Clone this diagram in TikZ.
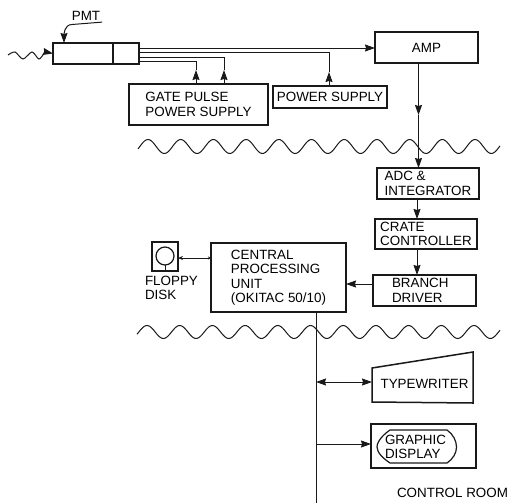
\documentclass[tikz,border=0pt]{standalone}
\usepackage{fontspec}
\setmainfont{Liberation Sans}
\usetikzlibrary{positioning,arrows.meta}
\colorlet{inkline}{black!90}
\begin{document}
\begin{tikzpicture}[x=1pt,y=-1pt,every node/.style={font=\fontsize{13.4}{14.5}\selectfont,text=black,inner sep=0pt,outer sep=0pt},box/.style={draw=inkline,line width=1.5pt,align=left},link/.style={draw=inkline,line width=1pt},arrowline/.style={link,-{Stealth[length=10pt,width=7pt,inset=1pt]}},both/.style={link,{Stealth[length=10pt,width=7pt,inset=1pt]}-{Stealth[length=10pt,width=7pt,inset=1pt]}},wave/.style={draw=inkline,line width=1pt,smooth}]
    \useasboundingbox (0,0) rectangle (510,503);
    \node[box,minimum width=86pt,minimum height=21pt] (pmt) at (96,53.5) {};
    \draw[box] (113,43) -- (113,64);
    \node[inner sep=2pt] (pmtlabel) at (86,15.5) {PMT};
    \node[box,minimum width=103pt,minimum height=31pt] (amp) at (426.5,47.5) {AMP};
    \node[box,minimum width=139pt,minimum height=41pt] (gate) at (198.5,104.5) {GATE PULSE\\POWER SUPPLY};
    \node[box,minimum width=114pt,minimum height=22pt] (power) at (330,97) {POWER SUPPLY};
    \node[box,minimum width=102pt,minimum height=31pt] (adc) at (428,183.5) {ADC \&\\INTEGRATOR};
    \node[box,minimum width=102pt,minimum height=30pt,below=20pt of adc,xshift=-2pt] (crate) {CRATE\\CONTROLLER};
    \node[box,text width=65pt,inner xsep=19pt,minimum height=31pt,below=26pt of crate,xshift=-1.5pt] (branch) {BRANCH\\DRIVER};
    \node[box,minimum width=135pt,minimum height=69pt] (cpu) at (278.5,277.5) {CENTRAL\\PROCESSING\\UNIT\\(OKITAC 50/10)};
    \node[box,minimum width=26pt,minimum height=29pt] (floppy) at (165,256.5) {};
    \node[draw=inkline,line width=1.2pt,circle,minimum size=18pt] (disk) at (165,256) {};
    \node[align=left,anchor=north west] (floppylabel) at (145,276) {FLOPPY\\DISK};
    \node[box,minimum width=105pt,minimum height=44pt] (display) at (423.5,446) {};
    \node[align=left,anchor=west] (graphic) at (385,447) {GRAPHIC\\DISPLAY};
    \node (typewriter) at (424.5,384) {TYPEWRITER};
    \node (room) at (452.5,493) {CONTROL ROOM};
    \draw[box] (372,368) -- (473,352) -- (473,403) -- (372,402) -- cycle;
    \draw[link,line width=1.2pt] (390,430) -- (447,430) .. controls (453,434) and (456.5,441) .. (456.5,447) .. controls (456.5,453) and (453,459) .. (447,463) -- (390,463) .. controls (384,459) and (377,453) .. (377,447) .. controls (377,441) and (384,434) .. (390,430) -- cycle;
    \draw[wave] plot[domain=138:500,samples=220] (\x,{146.5-7*cos(11.009*(\x-148))});
    \draw[wave] plot[domain=137:500,samples=220] (\x,{332-6.5*cos(11.009*(\x-147))});
    \draw[wave,-{Stealth[length=10pt,width=7pt,inset=1pt]}] plot coordinates {(8,55) (15,52) (23,59) (32,52) (39,59) (45,53) (pmt.west)};
    \coordinate (pmtlead) at (72,24.5);
    \coordinate (pmttip) at (64,43);
    \draw[arrowline] (pmtlabel.south east) -- (pmtlead) to[out=180,in=90] (pmttip);
    \coordinate (pmtA) at (139,48);
    \coordinate (pmtB) at (139,52);
    \coordinate (pmtC) at (139,57);
    \coordinate (pmtD) at (139,61);
    \coordinate (gateA) at (196,70);
    \coordinate (gateB) at (224,70);
    \coordinate (powerA) at (329,72);
    \coordinate (ampA) at (418.5,115);
    \coordinate (adcA) at (417,199);
    \coordinate (branchA) at (373,284);
    \coordinate (cpuA) at (316,312);
    \coordinate (busend) at (316,503);
    \coordinate (busB) at (316,382);
    \coordinate (busC) at (316,444);
    \coordinate (twA) at (372,382);
    \coordinate (floppyA) at (178,258);
    \coordinate (diskA) at (165,265);
    \coordinate (diskB) at (165,271);
    \draw[arrowline] (pmtA) -- (pmtA -| amp.west);
    \draw[link] (pmtB) -| (powerA);
    \draw[link] (pmtC) -| (gateB);
    \draw[link] (pmtD) -| (gateA);
    \draw[arrowline] (gateA |- gate.north) -- (gateA);
    \draw[arrowline] (gateB |- gate.north) -- (gateB);
    \draw[arrowline] (powerA |- power.north) -- (powerA);
    \draw[arrowline] (ampA |- amp.south) -- (ampA);
    \draw[arrowline] (ampA) -- (ampA |- adc.north);
    \draw[arrowline] (adcA) -- (adcA |- crate.north);
    \draw[arrowline] (adcA |- crate.south) -- (adcA |- branch.north);
    \draw[arrowline] (branchA) -- (branchA -| cpu.east);
    \draw[link,{Stealth[length=5pt,width=4pt]}-{Stealth[length=3pt,width=3pt]}] (floppyA) -- (floppyA -| cpu.west);
    \draw[link] (diskA) -- (diskB);
    \draw[link] (cpuA) -- (busend);
    \draw[both] (busB) -- (twA);
    \draw[arrowline] (busC) -- (busC -| display.west);
\end{tikzpicture}
\end{document}
